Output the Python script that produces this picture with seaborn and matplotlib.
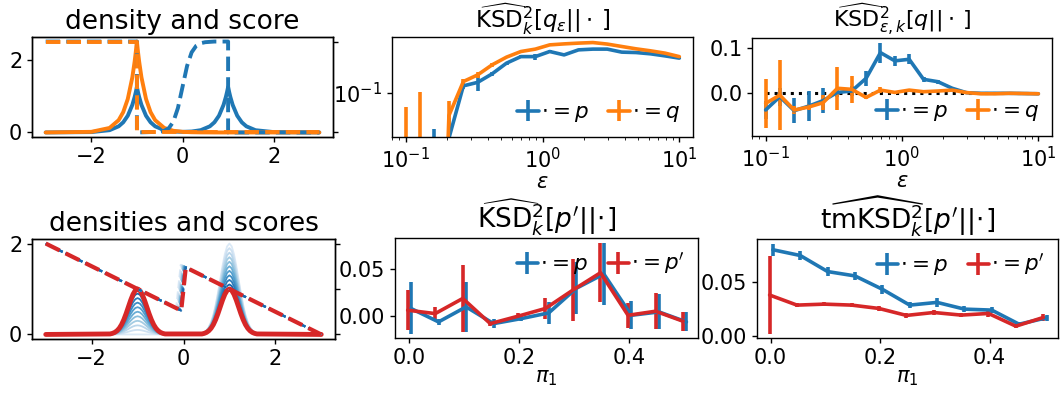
import matplotlib
matplotlib.use("Agg")
import matplotlib.pyplot as plt
import seaborn as sns
from matplotlib.ticker import NullLocator

# ---------------- data ----------------
# panel 1: Laplace-type densities and their (clipped) scores
lap_x = [-3.0, -2.0, -1.6, -1.4, -1.3, -1.2, -1.1, -1.05, -1.025, -1.0, -0.975, -0.95, -0.9, -0.8,
         -0.7, -0.6, -0.4, -0.2, 0.0, 0.2, 0.4, 0.6, 0.7, 0.8, 0.9, 0.95, 0.975, 1.0, 1.025, 1.05,
         1.1, 1.2, 1.3, 1.4, 1.6, 2.0, 3.0]
dens_p = [0.0, 0.01, 0.062, 0.169, 0.279, 0.46, 0.758, 0.973, 1.103, 1.25, 1.103, 0.973, 0.758, 0.46,
          0.279, 0.169, 0.063, 0.026, 0.017, 0.026, 0.063, 0.169, 0.279, 0.46, 0.758, 0.973, 1.103,
          1.25, 1.103, 0.973, 0.758, 0.46, 0.279, 0.169, 0.062, 0.01, 0.0]
dens_q = [0.0, 0.017, 0.124, 0.338, 0.558, 0.92, 1.516, 1.947, 2.206, 2.5, 2.206, 1.947, 1.516, 0.92,
          0.558, 0.338, 0.124, 0.046, 0.017, 0.006, 0.002, 0.001, 0.0, 0.0, 0.0, 0.0, 0.0,
          0.0, 0.0, 0.0, 0.0, 0.0, 0.0, 0.0, 0.0, 0.0, 0.0]
score_p_x = [-3.0, -1.0, -1.0, -0.5, -0.4, -0.3, -0.2, -0.1, 0.0, 0.1, 0.2, 0.3, 0.4, 0.5, 0.7, 1.0, 1.0, 3.0]
score_p = [5.0, 5.0, -5.0, -4.93, -4.82, -4.53, -3.81, -2.31, 0.0, 2.31, 3.81, 4.53, 4.82, 4.93, 5.0, 5.0, -5.0, -5.0]
score_q_x = [-3.0, -1.0, -1.0, 3.0]
score_q = [5.0, 5.0, -5.0, -5.0]

# panel 4: Gaussian mixtures for pi_1 = 0 ... 0.5
mix_pi1 = [0.0, 0.05, 0.1, 0.15, 0.2, 0.25, 0.3, 0.35, 0.4, 0.45, 0.5]
left_peak = [0.0, 0.2, 0.4, 0.6, 0.8, 1.0, 1.2, 1.4, 1.6, 1.8, 2.0]
right_peak = [4.0, 3.8, 3.6, 3.4, 3.2, 3.0, 2.8, 2.6, 2.4, 2.2, 2.0]
bump_dx = [-0.6, -0.55, -0.5, -0.45, -0.4, -0.35, -0.3, -0.25, -0.2, -0.15, -0.1, -0.05, 0.0,
           0.05, 0.1, 0.15, 0.2, 0.25, 0.3, 0.35, 0.4, 0.45, 0.5, 0.55, 0.6]
bump_shape = [0.011, 0.023, 0.044, 0.080, 0.135, 0.216, 0.325, 0.458, 0.607, 0.755, 0.882, 0.969, 1.0,
              0.969, 0.882, 0.755, 0.607, 0.458, 0.325, 0.216, 0.135, 0.080, 0.044, 0.023, 0.011]
score_jump_lx = [-0.16, -0.14, -0.12, -0.11, -0.10, -0.09, -0.08, -0.07, -0.06, -0.05]
score_jump_ls = [-21.0, -21.5, -22.0, -22.25, -22.5, -22.75, -23.0, -23.25, -23.5, -23.75]
score_jump_rx = [-0.06, -0.04, -0.02, -0.01, 0.0, 0.01, 0.02, 0.03, 0.04, 0.05]
score_jump_rs = [26.5, 26.0, 25.5, 25.25, 25.0, 24.75, 24.5, 24.25, 24.0, 23.75]
score_red_x = [-3.0, -0.05, 0.05, 3.0]
score_red = [50.0, -23.75, 23.75, -50.0]

# panels 2 and 3
eps = [0.1, 0.127, 0.162, 0.207, 0.264, 0.336, 0.428, 0.546, 0.695, 0.886, 1.129, 1.438,
       1.833, 2.336, 2.976, 3.793, 4.833, 6.158, 7.848, 10.0]
ksd_qeps_p = [-0.03, -0.02, -0.02, 0.041, 0.1148, 0.123, 0.1453, 0.1795, 0.204, 0.204, 0.2255, 0.211,
              0.233, 0.2364, 0.2364, 0.2228, 0.221, 0.2155, 0.207, 0.198]
ksd_qeps_p_err = [0.02, 0.01, 0.069, 0.02, 0.006, 0.02, 0.006, 0.005, 0.006, 0.012, 0.005, 0.005,
                  0.005, 0.004, 0.004, 0.004, 0.004, 0.004, 0.004, 0.004]
ksd_qeps_q = [-0.03, -0.01, -0.04, 0.064, 0.125, 0.1425, 0.1735, 0.202, 0.2255, 0.2364, 0.257, 0.262,
              0.266, 0.269, 0.261, 0.249, 0.2377, 0.2286, 0.2185, 0.204]
ksd_qeps_q_err = [0.106, 0.112, 0.03, 0.022, 0.006, 0.008, 0.006, 0.005, 0.004, 0.004, 0.004, 0.004,
                  0.004, 0.004, 0.004, 0.004, 0.004, 0.004, 0.004, 0.004]
ksdeps_p = [-0.0365, -0.0074, -0.038, -0.028, -0.016, 0.002, 0.005, 0.033, 0.089, 0.071, 0.0744, 0.0306,
            0.0254, 0.011, 0.0013, 0.0, 0.0, 0.0, -0.0005, -0.001]
ksdeps_p_err = [0.02, 0.02, 0.027, 0.032, 0.027, 0.01, 0.01, 0.016, 0.022, 0.011, 0.011, 0.005,
                0.004, 0.003, 0.002, 0.002, 0.002, 0.002, 0.002, 0.002]
ksdeps_q = [-0.022, -0.004, -0.0365, -0.030, -0.0205, 0.011, 0.0087, -0.009, 0.007, 0.002, 0.007, 0.0035,
            0.005, 0.007, 0.0015, -0.001, -0.001, 0.0, -0.0005, -0.001]
ksdeps_q_err = [0.054, 0.077, 0.008, 0.006, 0.016, 0.047, 0.03, 0.004, 0.007, 0.003, 0.003, 0.002,
                0.002, 0.002, 0.002, 0.002, 0.002, 0.002, 0.002, 0.002]

# panels 5 and 6
pi1 = [0.0, 0.05, 0.1, 0.15, 0.2, 0.25, 0.3, 0.35, 0.4, 0.45, 0.5]
ksd_pp_p = [0.0082, -0.006, 0.0099, -0.0078, -0.0025, 0.0035, 0.0295, 0.0447, 0.001, 0.0046, -0.006]
ksd_pp_p_err = [0.0275, 0.003, 0.0266, 0.005, 0.003, 0.012, 0.0275, 0.033, 0.015, 0.0186, 0.01]
ksd_pp_pp = [0.0064, 0.0028, 0.0188, -0.0078, 0.0, 0.0082, 0.0277, 0.046, 0.001, 0.0053, -0.0053]
ksd_pp_pp_err = [0.021, 0.007, 0.035, 0.003, 0.003, 0.0106, 0.033, 0.031, 0.013, 0.019, 0.01]
tm_p = [0.0794, 0.0741, 0.0593, 0.0553, 0.043, 0.0284, 0.0309, 0.0247, 0.0238, 0.0108, 0.0167]
tm_p_err = [0.0055, 0.004, 0.004, 0.004, 0.004, 0.003, 0.004, 0.003, 0.003, 0.002, 0.003]
tm_pp = [0.0377, 0.0284, 0.0293, 0.0284, 0.0253, 0.0189, 0.0216, 0.0192, 0.0207, 0.009, 0.017]
tm_pp_err = [0.0358, 0.002, 0.002, 0.002, 0.002, 0.002, 0.002, 0.002, 0.003, 0.002, 0.003]

# ---------------- style ----------------
sns.set_style("ticks")
plt.rcParams.update({
    "font.family": "DejaVu Sans",
    "font.size": 15,
    "axes.titlesize": 19,
    "xtick.labelsize": 15,
    "ytick.labelsize": 15,
    "legend.fontsize": 15.5,
    "axes.edgecolor": "black",
    "axes.labelcolor": "black",
    "text.color": "black",
    "xtick.color": "black",
    "ytick.color": "black",
    "axes.linewidth": 1.0,
    "xtick.major.size": 3.5,
    "ytick.major.size": 3.5,
    "xtick.minor.size": 2.0,
    "xtick.major.width": 1.0,
    "ytick.major.width": 1.0,
    "mathtext.fontset": "dejavusans",
})

C0, C1, C3 = "#1f77b4", "#ff7f0e", "#d62728"
W, H = 1060, 396
fig = plt.figure(figsize=(W / 100, H / 100), dpi=100)


def box(l, r, t, b):
    return [l / W, 1 - b / H, (r - l) / W, (b - t) / H]


ax1 = fig.add_axes(box(32, 333, 37, 137))
ax2 = fig.add_axes(box(392, 693, 37, 137))
ax3 = fig.add_axes(box(752, 1052, 38, 136))
ax4 = fig.add_axes(box(32, 335, 239, 339))
ax5 = fig.add_axes(box(395, 698, 238, 338))
ax6 = fig.add_axes(box(757, 1058, 239, 338))

# ---------- panel 1 ----------
sns.lineplot(x=lap_x, y=dens_p, color=C0, lw=2.8, ax=ax1, estimator=None, sort=False)
sns.lineplot(x=lap_x, y=dens_q, color=C1, lw=2.8, ax=ax1, estimator=None, sort=False)
ax1.set_xlim(-3.3, 3.3)
ax1.set_ylim(-0.125, 2.625)
ax1.set_xticks([-2, 0, 2])
ax1.set_yticks([0, 2])
ax1.set_title("density and score")
ax1t = ax1.twinx()
sns.lineplot(x=score_p_x, y=score_p, color=C0, lw=2.8, ls="--", ax=ax1t, estimator=None, sort=False)
sns.lineplot(x=score_q_x, y=score_q, color=C1, lw=2.8, ls="--", ax=ax1t, estimator=None, sort=False)
ax1t.set_ylim(-5.5, 5.5)
ax1t.set_yticks([-5, 5])
ax1t.set_yticklabels([])
ax1t.set_ylabel("")

# ---------- panel 4 ----------
blues = sns.color_palette("Blues", n_colors=len(mix_pi1) + 2)[1:]
mix_x = [-3.0] + [-1 + d for d in bump_dx] + [1 + d for d in bump_dx] + [3.0]
for i in range(len(mix_pi1) - 1):
    yy = [0.0] + [left_peak[i] / 2 * s for s in bump_shape] + [right_peak[i] / 2 * s for s in bump_shape] + [0.0]
    sns.lineplot(x=mix_x, y=yy, color=blues[i], lw=1.3, ax=ax4, estimator=None, sort=False)
yy = [0.0] + [left_peak[-1] / 2 * s for s in bump_shape] + [right_peak[-1] / 2 * s for s in bump_shape] + [0.0]
sns.lineplot(x=mix_x, y=yy, color=C3, lw=3.5, ax=ax4, estimator=None, sort=False)
ax4.set_xlim(-3.3, 3.3)
ax4.set_ylim(-0.1, 2.1)
ax4.set_xticks([-2, 0, 2])
ax4.set_yticks([0, 2])
ax4.set_title("densities and scores")
ax4t = ax4.twinx()
for i in range(len(score_jump_lx)):
    sx = [-3.0, score_jump_lx[i], score_jump_rx[i], 3.0]
    sy = [50.0, score_jump_ls[i], score_jump_rs[i], -50.0]
    sns.lineplot(x=sx, y=sy, color=blues[i], lw=1.5, ls="--", ax=ax4t, estimator=None, sort=False)
sns.lineplot(x=score_red_x, y=score_red, color=C3, lw=3.0, ls="--", ax=ax4t, estimator=None, sort=False)
ax4t.set_ylim(-55, 55)
ax4t.set_yticks([-50, 0, 50])
ax4t.set_yticklabels([])
ax4t.set_ylabel("")

eb_kw = dict(lw=2.6, elinewidth=2.6, capsize=0)
leg_kw = dict(ncol=2, frameon=False, handlelength=1.0, handletextpad=0.1,
              columnspacing=0.9, borderaxespad=0.2)

# ---------- panel 2 ----------
ax2.set_xscale("log")
ax2.set_yscale("symlog", linthresh=0.01)
ax2.errorbar(eps, ksd_qeps_p, yerr=ksd_qeps_p_err, color=C0, label=r"$\cdot = p$", **eb_kw)
ax2.errorbar(eps, ksd_qeps_q, yerr=ksd_qeps_q_err, color=C1, label=r"$\cdot = q$", **eb_kw)
ax2.set_ylim(0.042, 0.3)
ax2.set_xlim(10 ** -1.1, 10 ** 1.1)
ax2.yaxis.set_minor_locator(NullLocator())
ax2.set_xlabel(r"$\varepsilon$", labelpad=0)
ax2.set_title(r"$\widehat{\mathrm{KSD}}^2_k[q_\varepsilon||\cdot\,]$", pad=0, fontsize=18)
ax2.legend(loc="lower right", **leg_kw)

# ---------- panel 3 ----------
ax3.set_xscale("log")
ax3.hlines(0, eps[0], eps[-1], colors="black", linestyles=":", lw=2.2, zorder=1)
ax3.errorbar(eps, ksdeps_p, yerr=ksdeps_p_err, color=C0, label=r"$\cdot = p$", **eb_kw)
ax3.errorbar(eps, ksdeps_q, yerr=ksdeps_q_err, color=C1, label=r"$\cdot = q$", **eb_kw)
ax3.set_ylim(-0.0934, 0.121)
ax3.set_xlim(10 ** -1.1, 10 ** 1.1)
ax3.set_yticks([0.0, 0.1])
ax3.set_xlabel(r"$\varepsilon$", labelpad=0)
ax3.set_title(r"$\widehat{\mathrm{KSD}}^2_{\varepsilon,k}[q||\cdot\,]$", pad=0, fontsize=18)
ax3.legend(loc="lower right", **leg_kw)

# ---------- panel 5 ----------
ax5.errorbar([v + 0.004 for v in pi1], ksd_pp_p, yerr=ksd_pp_p_err, color=C0, label=r"$\cdot = p$", **eb_kw)
ax5.errorbar([v - 0.002 for v in pi1], ksd_pp_pp, yerr=ksd_pp_pp_err, color=C3, label=r"$\cdot = p'$", **eb_kw)
ax5.set_xlim(-0.025, 0.525)
ax5.set_ylim(-0.023, 0.0827)
ax5.set_xticks([0.0, 0.2, 0.4])
ax5.set_yticks([0.0, 0.05])
ax5.set_xlabel(r"$\pi_1$", labelpad=0)
ax5.set_title(r"$\widehat{\mathrm{KSD}}^2_k[p'||\!\cdot\!]$")
ax5.legend(loc="upper right", **leg_kw)

# ---------- panel 6 ----------
ax6.errorbar([v + 0.004 for v in pi1], tm_p, yerr=tm_p_err, color=C0, label=r"$\cdot = p$", **eb_kw)
ax6.errorbar([v - 0.002 for v in pi1], tm_pp, yerr=tm_pp_err, color=C3, label=r"$\cdot = p'$", **eb_kw)
ax6.set_xlim(-0.025, 0.525)
ax6.set_ylim(-0.0019, 0.0893)
ax6.set_xticks([0.0, 0.2, 0.4])
ax6.set_yticks([0.0, 0.05])
ax6.set_xlabel(r"$\pi_1$", labelpad=0)
ax6.set_title(r"$\widehat{\mathrm{tmKSD}}^2_k[p'||\!\cdot\!]$")
ax6.legend(loc="upper right", **leg_kw)

for a in (ax1, ax2, ax3, ax4, ax5, ax6):
    for s in a.spines.values():
        s.set_visible(True)

# keep the hatted top-row titles inside the canvas: first nudge down a few px, then shrink
fig.canvas.draw()
rend = fig.canvas.get_renderer()
for ax in (ax2, ax3):
    t = ax.title
    ax_h = ax.get_window_extent(rend).height
    shift = 0
    while t.get_window_extent(rend).y1 > H - 1 and shift < 7:
        shift += 1
        x0, y0 = t.get_position()
        t.set_y(1.0 - shift / ax_h)
        fig.canvas.draw()
    fs = t.get_fontsize()
    while t.get_window_extent(rend).y1 > H - 1 and fs > 15:
        fs -= 0.5
        t.set_fontsize(fs)
        fig.canvas.draw()

fig.savefig("out.png", dpi=100)
